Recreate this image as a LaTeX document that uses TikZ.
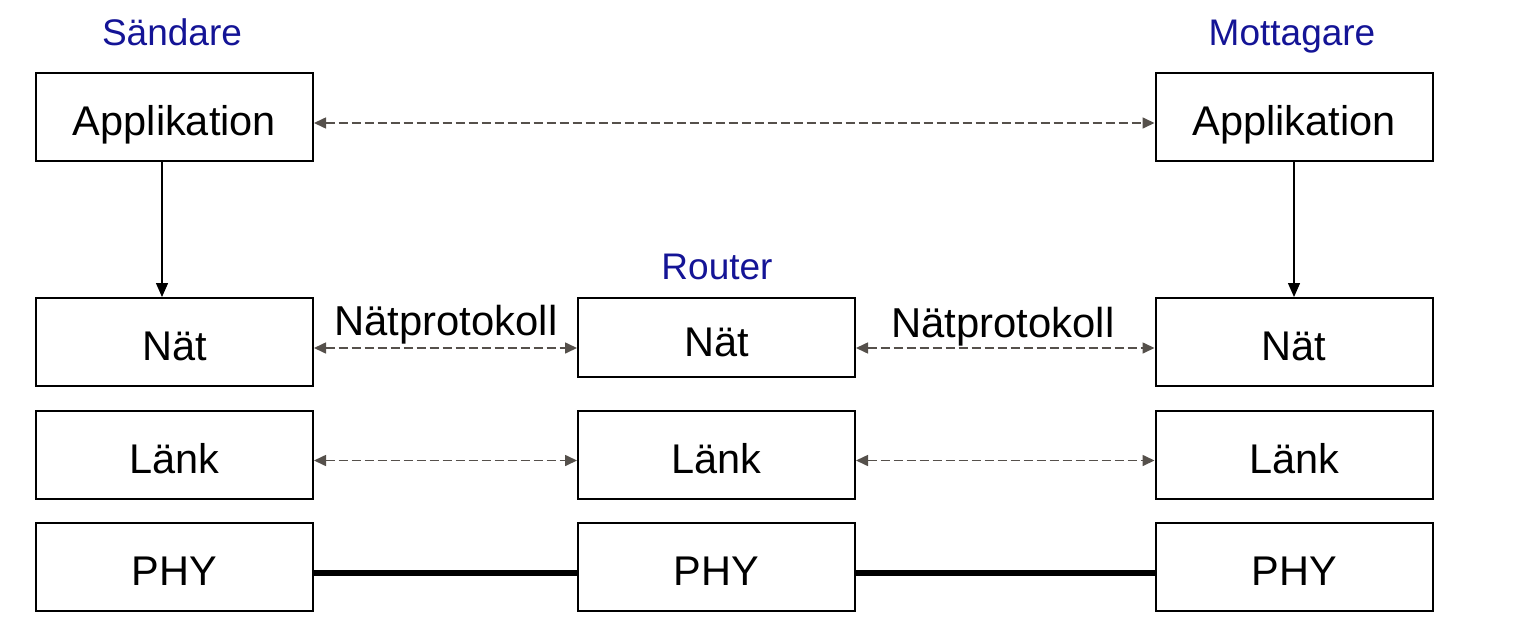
\documentclass[tikz,border=0pt]{standalone}
\usepackage{fontspec}
\setmainfont{Liberation Sans}
\usetikzlibrary{arrows.meta}
\definecolor{lblblue}{RGB}{20,20,150}
\definecolor{dgray}{RGB}{85,80,75}
\begin{document}
\begin{tikzpicture}[x=0.5pt,y=-0.5pt,
  layer/.style={draw=black,line width=1pt,minimum width=138.5pt,minimum height=44pt,inner sep=0pt,text height=18.8pt,text depth=0pt,font=\fontsize{20.75}{24}\selectfont},
  title/.style={text=lblblue,font=\fontsize{18.5}{22}\selectfont,inner sep=0pt,anchor=base},
  proto/.style={font=\fontsize{20.9}{24}\selectfont,inner sep=0pt,anchor=base},
  peer/.style={dgray,line width=0.8pt,dash pattern=on 4.5pt off 2pt,{Triangle[length=6pt,width=5.5pt]}-{Triangle[length=6pt,width=5.5pt]}},
  down/.style={black,line width=0.7pt,-{Triangle[length=7pt,width=6pt]}},
  wire/.style={black,line width=3pt}]
\useasboundingbox (0,0) rectangle (1518,642);
% sender
\node[layer] (sa) at (174.5,117) {Applikation};
\node[layer] (sn) at (174.5,342) {Nät};
\node[layer] (sl) at (174.5,454.5) {Länk};
\node[layer] (sp) at (174.5,567) {PHY};
% router
\node[layer,minimum height=39.5pt] (rn) at (716.5,337.5) {Nät};
\node[layer] (rl) at (716.5,454.5) {Länk};
\node[layer] (rp) at (716.5,567) {PHY};
% receiver
\node[layer] (ma) at (1294,117) {Applikation};
\node[layer] (mn) at (1294,342) {Nät};
\node[layer] (ml) at (1294,454.5) {Länk};
\node[layer] (mp) at (1294,567) {PHY};
% titles
\node[title] (t1) at (172,46) {Sändare};
\node[title] (t2) at (1292,46) {Mottagare};
\node[title] (t3) at (717,279) {Router};
\node[proto] (p1) at (446,335) {Nätprotokoll};
\node[proto] (p2) at (1003,337) {Nätprotokoll};
% peer connections
\draw[peer] ([yshift=-3pt]sa.east) -- ([yshift=-3pt]ma.west);
\draw[peer] ([yshift=-3pt]sn.east) -- ([yshift=-3pt]sn.east -| rn.west);
\draw[peer] ([yshift=-3pt]mn.west -| rn.east) -- ([yshift=-3pt]mn.west);
\draw[peer] ([yshift=-3pt]sl.east) -- ([yshift=-3pt]rl.west);
\draw[peer] ([yshift=-3pt]rl.east) -- ([yshift=-3pt]ml.west);
% vertical
\draw[down] ([xshift=-6.25pt]sa.south) -- ([xshift=-6.25pt]sn.north);
\draw[down] (ma.south) -- (mn.north);
% physical
\draw[wire] ([yshift=-3pt,xshift=-1pt]sp.east) -- ([yshift=-3pt,xshift=1pt]rp.west);
\draw[wire] ([yshift=-3pt,xshift=-1pt]rp.east) -- ([yshift=-3pt,xshift=1pt]mp.west);
\end{tikzpicture}
\end{document}
